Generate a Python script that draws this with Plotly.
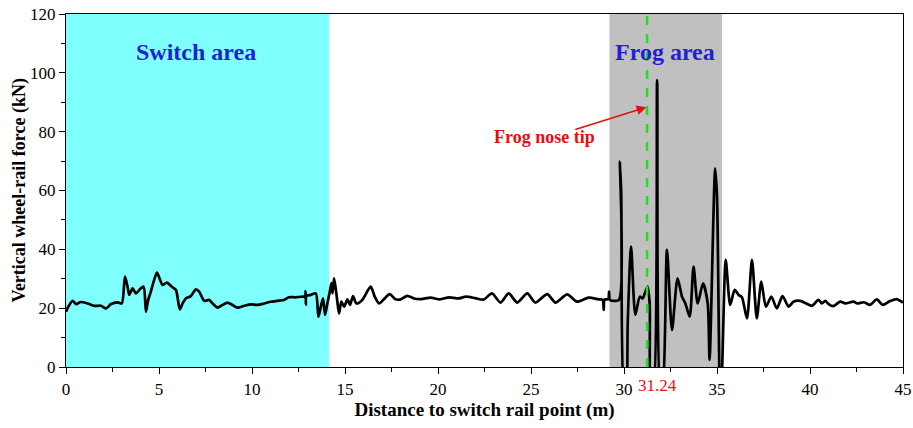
import plotly.graph_objects as go

# Distance to switch rail point (m) and vertical wheel-rail force (kN)
distance = [
    0.00, 0.12, 0.36, 0.54, 0.80, 1.16, 1.52, 1.88, 2.15, 2.42, 2.78, 3.00, 3.17, 3.31, 3.40,
    3.58, 3.76, 3.97, 4.17, 4.30, 4.42, 4.56, 4.71, 4.89, 5.03, 5.19, 5.42, 5.69, 5.91, 6.12,
    6.27, 6.44, 6.71, 6.98, 7.16, 7.43, 7.70, 7.88, 8.15, 8.41, 8.68, 8.95, 9.22, 9.58, 9.94,
    10.30, 10.65, 11.01, 11.37, 11.72, 11.99, 12.35, 12.71, 12.86, 12.88, 12.90, 12.92, 13.16,
    13.43, 13.57, 13.70, 13.82, 13.93, 14.05, 14.18, 14.27, 14.33, 14.41, 14.50, 14.59, 14.68,
    14.80, 14.95, 15.13, 15.27, 15.43, 15.61, 15.93, 16.38, 16.60, 16.83, 17.09, 17.40, 17.72,
    18.00, 18.35, 18.71, 19.10, 19.60, 20.10, 20.60, 21.10, 21.50, 22.00, 22.45, 22.90, 23.36,
    23.80, 24.26, 24.80, 25.24, 25.87, 26.32, 26.94, 27.48, 28.10, 28.64, 28.85, 28.91, 28.96,
    29.15, 29.20, 29.25, 29.72, 29.78, 29.85, 30.02, 30.10, 30.20, 30.38, 30.61, 30.85, 31.00,
    31.15, 31.27, 31.38, 31.46, 31.56, 31.78, 31.97, 32.05, 32.31, 32.58, 32.88, 33.12, 33.30,
    33.53, 33.74, 33.96, 34.25, 34.50, 34.60, 34.90, 35.00, 35.17, 35.25, 35.47, 35.71, 35.95,
    36.16, 36.34, 36.61, 36.88, 37.14, 37.38, 37.63, 37.92, 38.22, 38.52, 38.85, 39.11, 39.47,
    39.80, 40.10, 40.46, 40.64, 40.82, 41.00, 41.26, 41.62, 41.90, 42.34, 42.55, 42.90, 43.23,
    43.59, 43.91, 44.30, 44.66, 45.00,
]
force = [
    18.8, 20.5, 22.5, 21.4, 22.1, 21.6, 20.8, 20.8, 19.9, 21.4, 22.0, 21.6, 30.7, 27.3, 24.5,
    26.7, 25.0, 26.4, 27.3, 18.8, 22.8, 25.6, 29.0, 32.1, 30.1, 27.9, 28.7, 27.3, 26.2, 19.6,
    21.6, 23.3, 24.1, 26.4, 25.6, 22.5, 22.8, 21.6, 20.2, 21.1, 21.9, 21.1, 20.2, 20.8, 21.3,
    21.1, 21.6, 22.2, 22.5, 22.8, 23.7, 23.7, 23.9, 24.0, 25.8, 21.2, 24.1, 24.5,
    25.0, 17.1, 20.5, 23.3, 17.7, 21.6, 25.5, 28.5, 25.0, 30.1, 26.7, 22.2, 18.2,
    22.2, 20.5, 23.0, 21.1, 24.1, 21.6, 22.8, 27.3, 23.9, 21.6, 23.0, 24.8, 23.0,
    23.0, 24.2, 23.3, 23.1, 23.6, 23.0, 23.7, 23.3, 23.9, 23.4, 22.9, 25.0, 21.9,
    25.0, 21.9, 25.0, 21.9, 24.8, 21.9, 24.7, 22.2, 23.6, 23.0, 22.8, 19.4, 23.0,
    23.0, 25.6, 22.8, 22.8, 69.8, 59.0, -10.0, -10.0, 15.0, 40.9, 17.7, 23.9, 23.3,
    25.6, 27.3, 21.6, -10.0, -10.0, 97.5, -10.0, -10.0, 39.8, 12.6, 30.1, 23.9, 21.6,
    17.1, 34.1, 21.6, 28.4, 21.6, 2.4, 67.5, 58.0, -10.0, -5.0, 36.4, 21.1, 26.2,
    24.5, 23.7, 16.5, 36.4, 16.5, 29.0, 20.5, 23.9, 19.9, 24.1, 20.5, 22.2, 22.5,
    21.6, 20.8, 22.8, 21.6, 22.5, 21.4, 20.7, 22.2, 21.6, 22.2, 21.6, 22.0, 21.1,
    23.0, 21.1, 22.4, 23.1, 21.9,
]

x_ticks = [0, 5, 10, 15, 20, 25, 30, 35, 40, 45]
y_ticks = [0, 20, 40, 60, 80, 100, 120]
switch_area = [0, 14.15]
frog_area = [29.22, 35.27]
frog_nose = 31.24

serif = "Liberation Serif"

fig = go.Figure()

fig.add_trace(go.Scatter(
    x=distance, y=force, mode="lines",
    line=dict(color="black", width=2.7, shape="spline", smoothing=0.7),
    showlegend=False, hoverinfo="skip",
))

fig.add_shape(type="rect", xref="x", yref="paper", x0=switch_area[0], x1=switch_area[1],
              y0=0, y1=1, fillcolor="#80ffff", line=dict(width=0), layer="below")
fig.add_shape(type="rect", xref="x", yref="paper", x0=frog_area[0], x1=frog_area[1],
              y0=0, y1=1, fillcolor="#c0c0c0", line=dict(width=0), layer="below")
fig.add_shape(type="line", xref="x", yref="paper", x0=frog_nose, x1=frog_nose,
              y0=0, y1=1, line=dict(color="#22dd22", width=2.5, dash="dash"), layer="above")

fig.add_annotation(x=7.0, y=107, xref="x", yref="y", text="<b>Switch area</b>",
                   showarrow=False, font=dict(family=serif, size=24, color="#1f1fd6"))
fig.add_annotation(x=32.2, y=107, xref="x", yref="y", text="<b>Frog area</b>",
                   showarrow=False, font=dict(family=serif, size=24, color="#1f1fd6"))
fig.add_annotation(x=25.75, y=78.3, xref="x", yref="y", text="<b>Frog nose tip</b>",
                   showarrow=False, font=dict(family=serif, size=18, color="#e01010"))
fig.add_annotation(x=31.2, y=88.3, xref="x", yref="y", ax=27.3, ay=80.6,
                   axref="x", ayref="y", text="", showarrow=True,
                   arrowhead=2, arrowsize=1.2, arrowwidth=1.6, arrowcolor="#e01010")
fig.add_annotation(x=frog_nose, y=0, xref="x", yref="paper", text=str(frog_nose),
                   showarrow=False, yanchor="top", xshift=10, yshift=-7,
                   font=dict(family=serif, size=17, color="#e01010"))
# y-axis title placed as rotated text
fig.add_annotation(x=-0.055, y=0.5, xref="paper", yref="paper",
                   text="<b>Vertical wheel-rail force (kN)</b>", textangle=-90,
                   showarrow=False, xanchor="center", yanchor="middle",
                   font=dict(family=serif, size=18, color="black"))

fig.update_xaxes(
    range=[0, 45], tickvals=x_ticks, ticktext=[str(v) for v in x_ticks],
    ticks="outside", ticklen=6, tickwidth=1.2, tickcolor="black",
    minor=dict(dtick=2.5, tick0=0, ticks="outside", ticklen=4, tickcolor="black", tickwidth=1.2),
    showline=True, linecolor="black", linewidth=1.3, mirror=True,
    showgrid=False, zeroline=False, automargin=False,
    tickfont=dict(family=serif, size=17, color="black"),
    title=dict(text="<b>Distance to switch rail point (m)</b>", standoff=2,
               font=dict(family=serif, size=19, color="black")),
)
fig.update_yaxes(
    range=[0, 120], tickvals=y_ticks, ticktext=[str(v) for v in y_ticks],
    ticks="outside", ticklen=6, tickwidth=1.2, tickcolor="black",
    minor=dict(dtick=10, tick0=0, ticks="outside", ticklen=4, tickcolor="black", tickwidth=1.2),
    showline=True, linecolor="black", linewidth=1.3, mirror=True,
    showgrid=False, zeroline=False, automargin=False,
    tickfont=dict(family=serif, size=17, color="black"),
)

fig.update_layout(
    width=913, height=428,
    margin=dict(l=66, r=10, t=14, b=61),
    plot_bgcolor="white", paper_bgcolor="white",
    showlegend=False,
)

fig.write_html("out.html")
